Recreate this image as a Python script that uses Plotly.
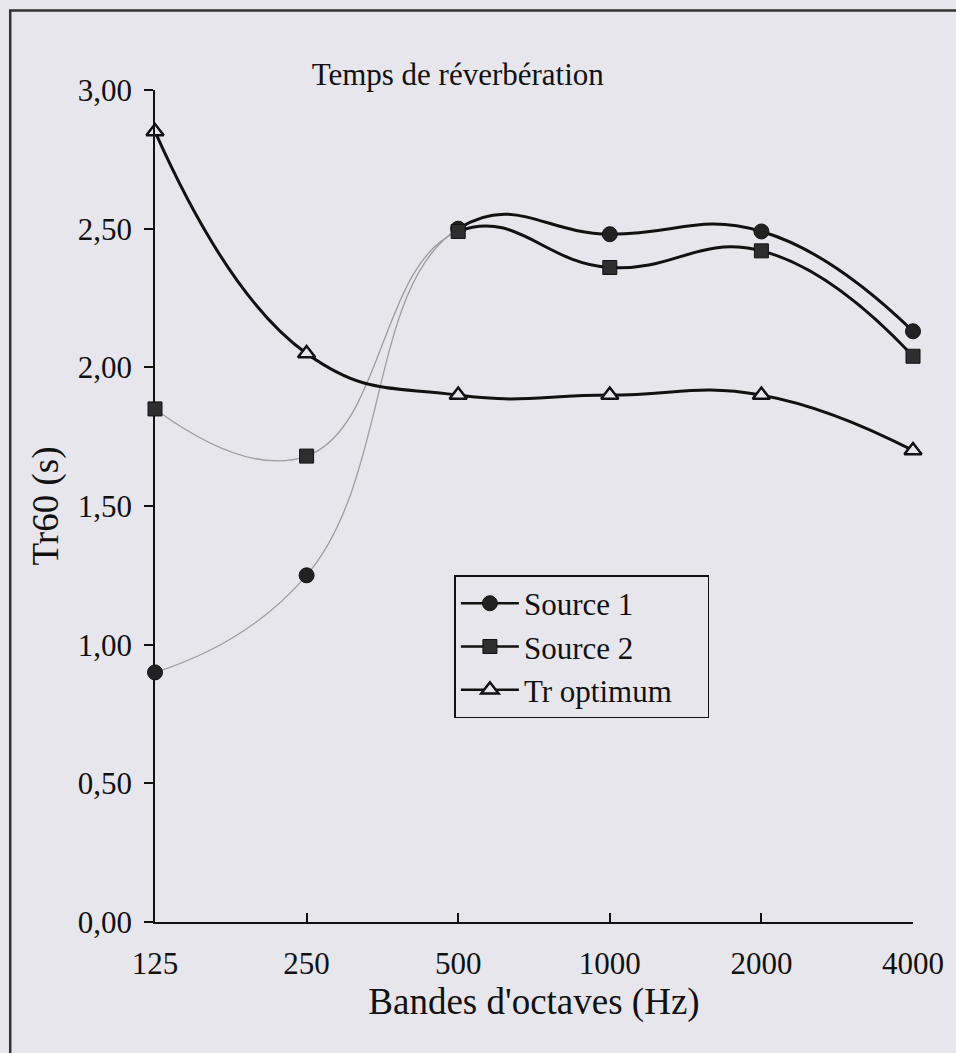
import plotly.graph_objs as go

bands = ["125", "250", "500", "1000", "2000", "4000"]
source_1 = [0.90, 1.25, 2.50, 2.48, 2.49, 2.13]
source_2 = [1.85, 1.68, 2.49, 2.36, 2.42, 2.04]
tr_optimum = [2.85, 2.05, 1.90, 1.90, 1.90, 1.70]

bg = "#e7e6ec"
serif = "Liberation Serif, Times New Roman, serif"

marker_1 = dict(symbol="circle", size=15, color="#222222", line=dict(color="#111111", width=1))
marker_2 = dict(symbol="square", size=14, color="#2e2e2e", line=dict(color="#111111", width=1))
marker_tr = dict(symbol="triangle-up", size=15, color=bg, line=dict(color="#111111", width=2.5))

data = []

# whole series in thin grey (the 125-500 part stays visible)
for ys in (source_1, source_2):
    data.append(go.Scatter(
        x=bands, y=ys, mode="lines", showlegend=False,
        line=dict(color="#9d9d9f", width=1.3, shape="spline", smoothing=1.3),
        hoverinfo="skip"
    ))

data.append(go.Scatter(
    x=bands, y=tr_optimum, mode="lines+markers", showlegend=False, cliponaxis=False,
    line=dict(color="#111111", width=3, shape="spline", smoothing=1.3),
    marker=marker_tr
))

# same series in black, clipped by a subplot starting at 500 Hz
for ys in (source_1, source_2):
    data.append(go.Scatter(
        x=bands, y=ys, mode="lines", showlegend=False,
        xaxis="x2", yaxis="y2",
        line=dict(color="#111111", width=3, shape="spline", smoothing=1.3),
        hoverinfo="skip"
    ))

# markers on top of everything
data.append(go.Scatter(x=bands, y=source_1, mode="markers", showlegend=False, cliponaxis=False,
                       xaxis="x3", yaxis="y3", marker=marker_1))
data.append(go.Scatter(x=bands, y=source_2, mode="markers", showlegend=False, cliponaxis=False,
                       xaxis="x3", yaxis="y3", marker=marker_2))

# legend entries
pad = "\u00a0" * 4
for name, mk in (("Source 1", marker_1), ("Source 2", marker_2), ("Tr optimum" + pad, marker_tr)):
    data.append(go.Scatter(
        x=[None], y=[None], name=name, mode="lines+markers",
        line=dict(color="#111111", width=2.5), marker=mk
    ))

hidden = dict(visible=False, showgrid=False, zeroline=False)

layout = go.Layout(
    width=956,
    height=1053,
    paper_bgcolor=bg,
    plot_bgcolor="rgba(0,0,0,0)",
    separators=", ",
    font=dict(family=serif, size=31, color="#111111"),
    margin=dict(l=155, r=41, t=90, b=131),
    title=dict(text="Temps de réverbération", x=0.326, xref="container", xanchor="left",
               y=0.93, yref="container", yanchor="middle",
               font=dict(family=serif, size=31, color="#111111")),
    xaxis=dict(
        type="category", categoryorder="array", categoryarray=bands,
        range=[0, 5], domain=[0, 1],
        showline=True, linecolor="#111111", linewidth=1.5,
        ticks="inside", ticklen=9, tickwidth=1.5, tickcolor="#111111",
        ticklabelstandoff=13,
        showgrid=False, zeroline=False,
        title=dict(text="Bandes d'octaves (Hz)", standoff=0),
        fixedrange=True
    ),
    yaxis=dict(
        range=[0, 3], domain=[0, 1],
        tickvals=[0, 0.5, 1, 1.5, 2, 2.5, 3], tickformat=".2f",
        showline=True, linecolor="#111111", linewidth=1.5,
        ticks="outside", ticklen=9, tickwidth=1.5, tickcolor="#111111",
        ticklabelstandoff=6,
        showgrid=False, zeroline=False,
        title=dict(text="Tr60 (s)", standoff=8),
        fixedrange=True
    ),
    xaxis2=dict(type="category", categoryorder="array", categoryarray=bands,
                range=[2, 5], domain=[0.4, 1], anchor="y2", **hidden),
    yaxis2=dict(range=[0, 3], domain=[0, 1], anchor="x2", **hidden),
    xaxis3=dict(type="category", categoryorder="array", categoryarray=bands,
                range=[0, 5], domain=[0, 1], anchor="y3", **hidden),
    yaxis3=dict(range=[0, 3], domain=[0, 1], anchor="x3", **hidden),
    legend=dict(
        x=0.395, y=0.417, xanchor="left", yanchor="top",
        bgcolor=bg, bordercolor="#111111", borderwidth=1.5,
        font=dict(family=serif, size=31, color="#111111"),
        itemwidth=58
    ),
    shapes=[dict(type="rect", xref="paper", yref="paper",
                 x0=-0.191, x1=1.1, y0=-0.2, y1=1.0955,
                 line=dict(color="#333333", width=2.5))]
)

fig = go.Figure(data=data, layout=layout)
fig.write_html("out.html", config=dict(displayModeBar=False),
               post_script="document.body.style.margin='0';document.body.style.overflow='hidden';")
